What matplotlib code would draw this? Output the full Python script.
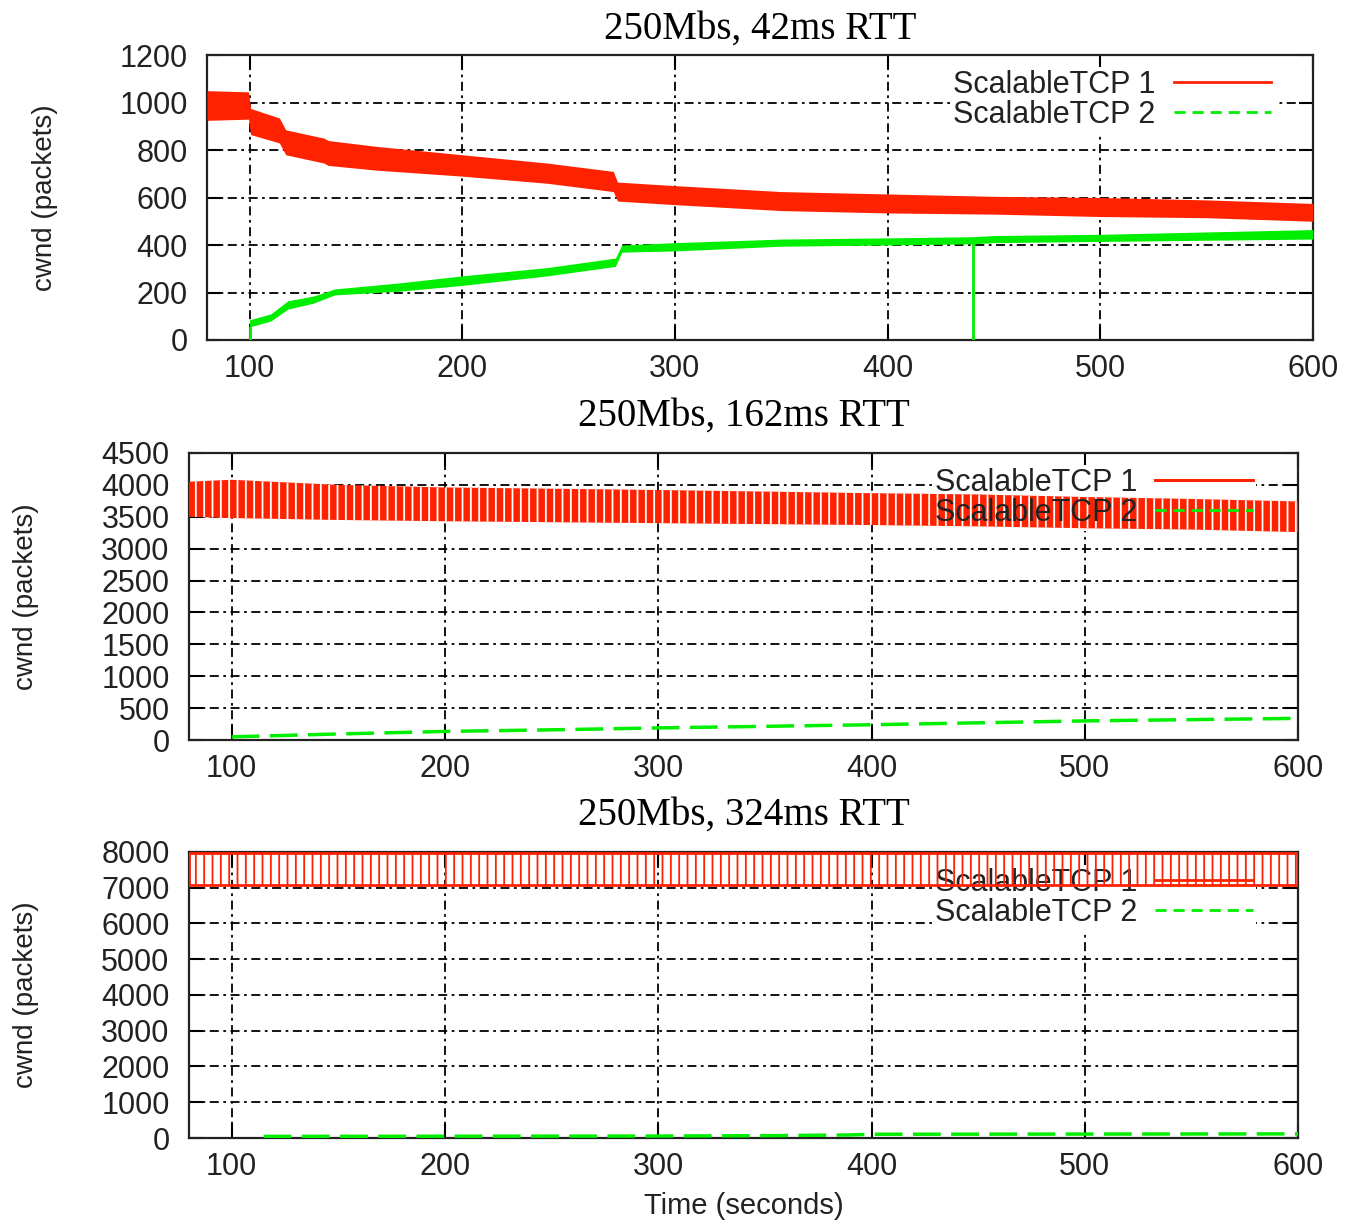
import matplotlib
matplotlib.use("Agg")
import matplotlib.pyplot as plt
from matplotlib.lines import Line2D
import numpy as np

plt.rcParams['font.family'] = ['Liberation Sans', 'DejaVu Sans']
plt.rcParams['hatch.linewidth'] = 1.3

# ---- data (time in s, cwnd in packets) ----
titles = ["250Mbs, 42ms RTT", "250Mbs, 162ms RTT", "250Mbs, 324ms RTT"]
yticks = [np.arange(0, 1201, 200), np.arange(0, 4501, 500), np.arange(0, 8001, 1000)]
xticks = [100, 200, 300, 400, 500, 600]

# 42ms: flow 1 band (low / high edge)
t1_red = [80, 99.5, 100.5, 114, 117, 135, 137, 160, 200, 240, 271, 273, 300, 350, 400, 450, 500, 550, 600]
lo1_red = [925, 930, 865, 830, 780, 745, 735, 715, 690, 660, 625, 585, 570, 545, 535, 530, 520, 515, 500]
hi1_red = [1050, 1045, 975, 935, 885, 850, 840, 815, 780, 745, 710, 665, 650, 625, 615, 605, 600, 590, 575]
# 42ms: flow 2 band
t1_grn = [100, 110, 118, 130, 140, 170, 200, 240, 272, 275, 300, 350, 400, 440, 450, 500, 550, 600]
lo1_grn = [55, 80, 130, 155, 190, 205, 230, 270, 310, 370, 375, 395, 400, 405, 410, 415, 420, 425]
hi1_grn = [85, 110, 165, 185, 215, 240, 270, 305, 345, 400, 410, 425, 430, 435, 440, 445, 455, 465]
drops1_t = [100, 440]
drops1_v = [60, 420]

# 162ms
t2_red = [80, 100, 150, 200, 300, 400, 450, 500, 550, 600]
lo2_red = [3500, 3480, 3450, 3430, 3400, 3370, 3350, 3320, 3300, 3260]
hi2_red = [4050, 4080, 4000, 3960, 3920, 3870, 3850, 3810, 3780, 3740]
t2_grn = [100, 150, 200, 250, 300, 350, 400, 450, 500, 550, 600]
v2_grn = [50, 95, 135, 160, 190, 215, 240, 270, 300, 320, 340]

# 324ms
t3_red = [80, 600]
lo3_red = [7080, 7080]
hi3_red = [7960, 7960]
t3_grn = [115, 200, 300, 350, 390, 400, 500, 600]
v3_grn = [45, 50, 55, 65, 85, 105, 110, 115]

RED = '#ff2200'
GREEN = '#00ee00'

fig = plt.figure(figsize=(13.55, 12.23), dpi=100)
boxes = [[0.1528, 0.7220, 0.8162, 0.2330],
         [0.1395, 0.3949, 0.8185, 0.2347],
         [0.1395, 0.0695, 0.8185, 0.2339]]
axs = [fig.add_axes(b) for b in boxes]

# panel 1
ax = axs[0]
ax.fill_between(t1_red, lo1_red, hi1_red, color=RED, lw=0, zorder=3)
ax.fill_between(t1_grn, lo1_grn, hi1_grn, color=GREEN, lw=0, zorder=3)
ax.vlines(drops1_t, 0, drops1_v, color=GREEN, lw=2, zorder=3)

# panel 2
ax = axs[1]
ax.fill_between(t2_red, lo2_red, hi2_red, facecolor=RED, edgecolor='white',
                hatch='||', lw=0, zorder=3)
ax.plot(t2_grn, v2_grn, color=GREEN, lw=2.5, dashes=(8, 3), zorder=3)

# panel 3
ax = axs[2]
ax.fill_between(t3_red, lo3_red, hi3_red, facecolor='none', edgecolor=RED,
                hatch='||', lw=2, zorder=3)
ax.plot(t3_grn, v3_grn, color=GREEN, lw=2.5, dashes=(8, 3), zorder=3)

grid_ls = (0, (5, 2.5, 1.5, 2.5))
handles = [Line2D([], [], color=RED, lw=2),
           Line2D([], [], color=GREEN, lw=2, dashes=(4, 2.5))]
labels = ["ScalableTCP 1", "ScalableTCP 2"]
title_pads = [12, 20, 20]
leg_x = [0.968, 0.965, 0.965]
leg_y = [0.97, 0.97, 0.965]


def add_legend(ax, i, frame):
    leg = ax.legend(handles, labels, loc='upper right', bbox_to_anchor=(leg_x[i], leg_y[i]),
                    markerfirst=False, frameon=frame, fancybox=False, framealpha=1,
                    edgecolor='none', facecolor='white', fontsize=22,
                    handlelength=3.2, handletextpad=0.6, labelspacing=0.0,
                    borderpad=0.1, borderaxespad=0.1)
    for txt in leg.get_texts():
        txt.set_color('#222222')
    return leg


for i, ax in enumerate(axs):
    ax.set_xlim(80, 600)
    ax.set_ylim(yticks[i][0], yticks[i][-1])
    ax.set_xticks(xticks)
    ax.set_yticks(yticks[i])
    ax.set_axisbelow(True)
    ax.grid(True, color='black', lw=1.3, linestyle=grid_ls)
    ax.tick_params(direction='in', length=10, width=1.5, top=True, right=True,
                   labelsize=22, labelcolor='#222222')
    ax.tick_params(axis='y', pad=14)
    ax.tick_params(axis='x', pad=10)
    for s in ax.spines.values():
        s.set_linewidth(1.6)
        s.set_color('#222222')
    ax.set_title(titles[i], family=['Liberation Serif', 'DejaVu Serif'], fontsize=28,
                 pad=title_pads[i])
    ax.set_ylabel("cwnd (packets)", fontsize=20, color='#222222')
    ax.yaxis.set_label_coords(-0.135, 0.5)

    leg = add_legend(ax, i, True)
    if i > 0:
        # white box sits under the traces, as in the original
        leg.set_zorder(2.5)
    if i == 1:
        # text of this key is drawn over the red band
        ax.add_artist(leg)
        for txt in leg.get_texts():
            txt.set_alpha(0)
        top = add_legend(ax, i, False)
        top.set_zorder(4)

axs[2].set_xlabel("Time (seconds)", fontsize=21, color='#222222', labelpad=7)

fig.savefig("out.png", dpi=100)
